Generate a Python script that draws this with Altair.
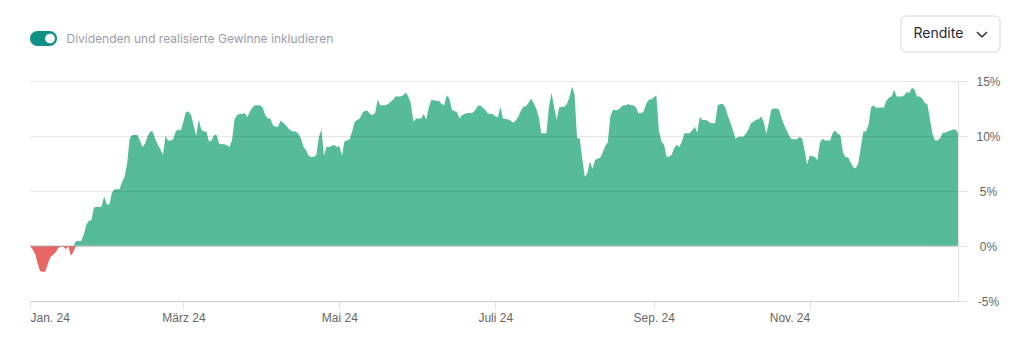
import altair as alt
import pandas as pd

# Day offsets from 2024-01-01 (daily series) and cumulative return in %
day_offsets = list(range(0, 364))
returns = [
    0, -0.3, -0.7, -1.6, -2.3, -2.35, -2.35, -1.6, -1.0, -0.8,
    -0.6, -0.2, -0.05, -0.05, -0.3, -0.05, -0.9, -0.5, 0.45, 0.45,
    0.45, 1.0, 1.9, 2.3, 2.35, 3.5, 3.55, 3.55, 3.6, 4.5,
    3.8, 3.75, 4.8, 5.15, 5.15, 5.15, 5.8, 6.3, 7.5, 9.8,
    10.1, 10.1, 10.1, 9.6, 9.0, 9.3, 10.0, 10.4, 10.4, 9.7,
    9.2, 8.8, 8.3, 10.0, 9.6, 9.6, 9.7, 10.4, 10.6, 10.5,
    11.3, 12.2, 12.2, 11.9, 11.0, 10.0, 11.5, 10.6, 10.4, 10.4,
    9.5, 9.6, 10.1, 10.1, 9.3, 9.25, 9.25, 9.15, 9.0, 9.6,
    11.5, 11.9, 12.0, 12.0, 12.1, 11.7, 12.2, 12.6, 12.8, 12.8,
    12.8, 12.6, 11.9, 11.6, 11.6, 11.0, 10.85, 10.85, 11.4, 11.2,
    11.0, 10.7, 10.5, 10.4, 10.4, 10.2, 9.8, 9.0, 8.7, 8.2,
    8.1, 8.1, 8.3, 9.9, 10.6, 8.2, 9.0, 9.0, 9.1, 9.2,
    9.0, 9.1, 8.2, 9.5, 9.6, 9.7, 10.4, 11.3, 11.45, 11.6,
    12.1, 12.3, 12.3, 12.0, 11.9, 12.1, 13.3, 12.8, 12.8, 12.8,
    12.9, 13.1, 13.3, 13.6, 13.6, 13.6, 13.7, 13.95, 13.6, 12.9,
    11.3, 11.6, 11.6, 11.6, 12.0, 11.5, 12.6, 13.3, 13.25, 13.2,
    13.2, 12.9, 12.8, 13.7, 13.4, 12.4, 12.25, 12.2, 11.6, 11.9,
    12.0, 12.1, 12.1, 12.1, 12.3, 12.7, 12.8, 12.6, 12.4, 12.06,
    12.0, 12.0, 11.8, 11.7, 12.66, 11.6, 11.55, 11.5, 11.4, 11.2,
    11.4, 11.75, 12.3, 12.66, 12.7, 13.0, 13.4, 13.0, 12.5, 11.75,
    10.24, 10.24, 10.24, 12.66, 13.9, 12.66, 11.45, 12.6, 12.66, 12.66,
    12.9, 13.5, 14.5, 13.8, 9.8, 9.8, 8.0, 6.3, 6.6, 7.7,
    7.0, 7.8, 7.95, 8.0, 8.5, 9.1, 9.4, 11.8, 12.36, 12.36,
    12.36, 12.6, 12.8, 12.8, 12.9, 12.8, 12.8, 12.6, 12.1, 12.06,
    12.2, 12.9, 13.3, 13.35, 13.5, 13.7, 10.5, 9.5, 9.2, 8.12,
    8.12, 8.3, 8.9, 9.2, 9.0, 9.5, 10.24, 10.24, 10.24, 10.5,
    10.85, 10.3, 11.75, 11.45, 11.45, 11.4, 11.2, 11.15, 11.15, 12.8,
    12.9, 12.9, 12.6, 11.8, 11.2, 10.5, 9.75, 9.94, 9.94, 9.94,
    10.2, 10.6, 11.15, 11.3, 11.5, 11.5, 11.8, 11.3, 10.2, 11.2,
    12.4, 12.5, 12.5, 12.4, 11.6, 11.0, 10.5, 10.0, 9.7, 9.7,
    9.7, 9.9, 9.8, 8.7, 7.4, 8.2, 8.15, 8.1, 7.8, 9.4,
    9.75, 9.6, 9.6, 9.6, 10.3, 10.5, 10.2, 10.1, 8.5, 8.06,
    8.06, 7.6, 7.15, 7.06, 7.5, 9.0, 10.4, 10.4, 11.0, 12.6,
    12.8, 12.55, 12.6, 12.6, 12.6, 13.2, 13.5, 13.6, 14.2, 13.6,
    13.6, 13.6, 13.7, 14.0, 13.9, 14.4, 14.2, 13.6, 13.6, 13.4,
    13.0, 12.9, 11.6, 10.2, 9.6, 9.6, 9.8, 10.3, 10.3, 10.4,
    10.5, 10.6, 10.6, 10.3,
]

y_ticks = [-5, 0, 5, 10, 15]
month_labels = ["Jan.", "Feb.", "März", "Apr.", "Mai", "Juni",
                "Juli", "Aug.", "Sep.", "Okt.", "Nov.", "Dez."]
tick_months = [1, 3, 5, 7, 9, 11]
toggle_label = "Dividenden und realisierte Gewinne inkludieren"
dropdown_label = "Rendite"

GREEN = "#56bb98"
RED = "#e86666"
TEAL = "#0f9186"

dates = pd.Timestamp("2024-01-01") + pd.to_timedelta(day_offsets, unit="D")
df = pd.DataFrame({"date": dates, "value": returns})
df["pos"] = df["value"].clip(lower=0)
df["neg"] = df["value"].clip(upper=0)

label_expr = (
    "[" + ",".join("'%s'" % m for m in month_labels) + "][month(datum.value)] + ' 24'"
)

x_axis = alt.Axis(
    values=[alt.DateTime(year=2024, month=m, date=1) for m in tick_months],
    labelExpr=label_expr,
    labelAlign={
        "condition": [
            {"test": "month(datum.value) == 0", "value": "left"},
            {"test": "month(datum.value) == 10", "value": "right"},
        ],
        "value": "center",
    },
    title=None,
    grid=False,
    domainColor="#e2e2e2",
    tickColor="#e2e2e2",
    tickSize=8,
    labelPadding=3,
    labelColor="#666666",
    labelFontSize=12,
    labelFont="Liberation Sans",
)

y_axis = alt.Axis(
    orient="right",
    values=y_ticks,
    labelExpr="datum.value + '%'",
    title=None,
    grid=True,
    gridColor="#000000",
    gridOpacity=0.1,
    domainColor="#e2e2e2",
    tickColor="#e2e2e2",
    tickSize=9,
    labelAlign="center",
    labelPadding=21,
    labelColor="#666666",
    labelFontSize=12,
    labelFont="Liberation Sans",
    zindex=1,
)
y_scale = alt.Scale(domain=[-5, 15], nice=False)

green = alt.Chart(df).mark_area(color=GREEN, interpolate="linear").encode(
    x=alt.X("date:T", scale=alt.Scale(nice=False), axis=x_axis),
    y=alt.Y("pos:Q", scale=y_scale, axis=y_axis),
    y2=alt.datum(0),
)

red = alt.Chart(df).mark_area(color=RED, interpolate="linear").encode(
    x=alt.X("date:T", scale=alt.Scale(nice=False), axis=x_axis),
    y=alt.Y("neg:Q", scale=y_scale, axis=y_axis),
    y2=alt.datum(0),
)

zero_rule = alt.Chart(pd.DataFrame({"z": [0]})).mark_rule(
    color="#c9c4c0", strokeWidth=1
).encode(y=alt.Y("z:Q", scale=y_scale, axis=y_axis))

one = pd.DataFrame({"a": [0]})

toggle_bg = alt.Chart(one).mark_rect(color=TEAL, cornerRadius=7.5).encode(
    x=alt.value(0), x2=alt.value(27), y=alt.value(-50), y2=alt.value(-35)
)
toggle_knob = alt.Chart(one).mark_circle(color="white", opacity=1, size=95).encode(
    x=alt.value(20), y=alt.value(-42.5)
)
toggle_text = alt.Chart(one).mark_text(
    text=toggle_label, align="left", baseline="middle",
    font="Inter", fontSize=12, color="#9c9cab",
).encode(x=alt.value(36.5), y=alt.value(-42))

box = alt.Chart(one).mark_rect(
    fill="white", stroke="#d6d6df", strokeWidth=1, cornerRadius=5
).encode(x=alt.value(871), x2=alt.value(970), y=alt.value(-65), y2=alt.value(-29))
box_text = alt.Chart(one).mark_text(
    text=dropdown_label, align="left", baseline="middle",
    font="Inter", fontSize=14, color="#2a2a38",
).encode(x=alt.value(883.5), y=alt.value(-47))
chev1 = alt.Chart(one).mark_rule(color="#2a2a38", strokeWidth=1.5).encode(
    x=alt.value(947), y=alt.value(-49), x2=alt.value(952), y2=alt.value(-44)
)
chev2 = alt.Chart(one).mark_rule(color="#2a2a38", strokeWidth=1.5).encode(
    x=alt.value(952), y=alt.value(-44), x2=alt.value(957), y2=alt.value(-49)
)

chart = alt.layer(
    green, red, zero_rule, toggle_bg, toggle_knob, toggle_text,
    box, box_text, chev1, chev2,
).properties(
    width=928,
    height=220,
    autosize=alt.AutoSizeParams(type="none"),
    padding={"left": 30, "top": 81, "right": 56, "bottom": 50},
    background="white",
).configure_view(stroke=None)

chart.save("out.html", embed_options={"renderer": "svg", "actions": False})
